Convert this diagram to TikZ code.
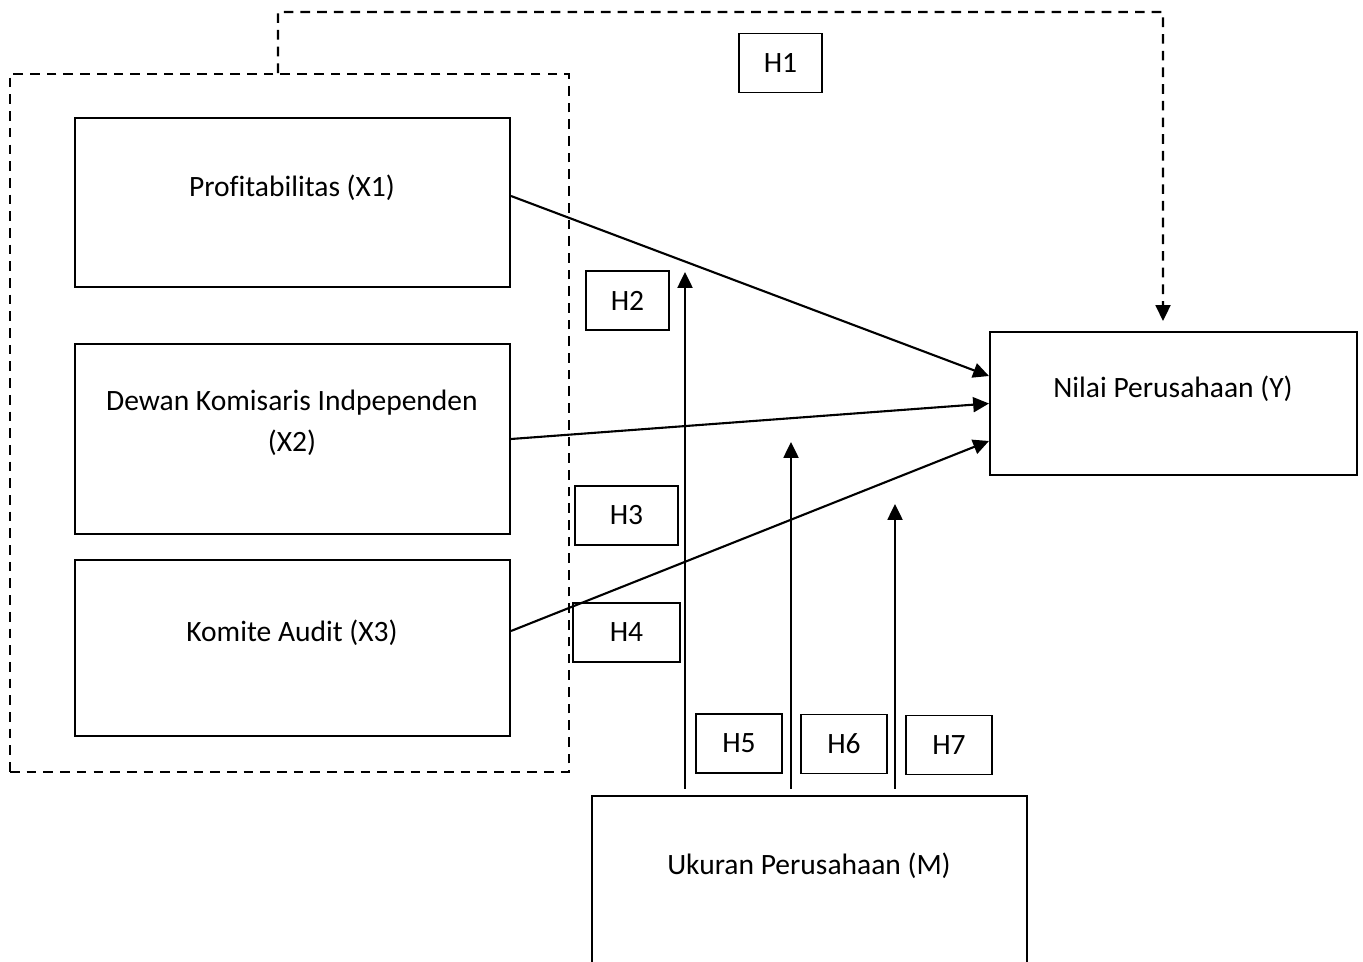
\documentclass[tikz,border=0pt]{standalone}
\usepackage{fontspec}
\setmainfont[Ligatures=NoCommon]{Carlito}
\usetikzlibrary{arrows.meta,positioning}
\tikzset{
	varbox/.style={draw,line width=1.2pt,minimum width=8.7cm,inner sep=0pt},
	hbox/.style={draw,line width=0.8pt,minimum height=1.18cm,inner sep=0pt},
	dashline/.style={line width=1.2pt,dash pattern=on 5.5pt off 4pt},
	arr/.style={line width=1.2pt,-{Triangle[length=9pt,width=8.5pt]}}
}
\begin{document}
\begin{tikzpicture}[x=0.02cm,y=-0.02cm,font=\fontsize{16.8}{20}\selectfont]
	\clip (0,0) rectangle (1363,962);
	% variabel
	\node[varbox,minimum height=3.38cm] (X1) at (292.5,202.5) {};
	\node[varbox,minimum height=3.8cm]  (X2) at (292.5,439) {};
	\node[varbox,minimum height=3.52cm] (X3) at (292.5,648) {};
	\node[varbox,minimum width=7.34cm,minimum height=2.86cm] (Y) at (1173.5,403.5) {};
	\node[varbox,minimum height=4.4cm] (M) at (809.5,906) {};
	\node (tX1) at (292,188) {Profitabilitas (X1)};
	\node[align=center] (tX2) at (292,423) {Dewan Komisaris Indpependen\\[3pt](X2)};
	\node (tX3) at (292,633) {Komite Audit (X3)};
	\node (tY) at (1173,389) {Nilai Perusahaan (Y)};
	\node (tM) at (809,866) {Ukuran Perusahaan (M)};
	\node[draw,dashline,minimum width=11.18cm,minimum height=13.96cm] (grp) at (289.5,423) {};
	% hipotesis
	\node[hbox,minimum width=1.66cm] (H1) at (780.5,63) {H1};
	\node[hbox,minimum width=1.66cm] (H2) at (627.5,300.5) {H2};
	\node[hbox,minimum width=2.06cm] (H3) at (626.5,515.5) {H3};
	\node[hbox,minimum width=2.14cm] (H4) at (626.5,632.5) {H4};
	\node[hbox,minimum width=1.72cm] (H5) at (739,743.5) {H5};
	\node[hbox,minimum width=1.72cm] (H6) at (844,744) {H6};
	\node[hbox,minimum width=1.72cm] (H7) at (949,745) {H7};
	% pengaruh langsung
	\draw[arr] ([yshift=0.13cm]X1.east) -- ([yshift=0.55cm]Y.west);
	\draw[arr] (X2.east) -- (Y.west);
	\draw[arr] ([yshift=0.34cm]X3.east) -- ([yshift=-0.75cm]Y.west);
	\coordinate (top) at (1163,12);
	\draw[dashline,-{Triangle[length=9pt,width=8.5pt]},shorten >=0.2cm] ([xshift=-0.23cm]grp.north) |- (top) -- ([xshift=-0.21cm]Y.north);
	% moderasi
	\coordinate (m1) at (685,272);
	\coordinate (m2) at (791,442);
	\coordinate (m3) at (895,504);
	\draw[arr,shorten <=0.12cm] (M.north -| m1) -- (m1);
	\draw[arr,shorten <=0.12cm] (M.north -| m2) -- (m2);
	\draw[arr,shorten <=0.12cm] (M.north -| m3) -- (m3);
\end{tikzpicture}
\end{document}
